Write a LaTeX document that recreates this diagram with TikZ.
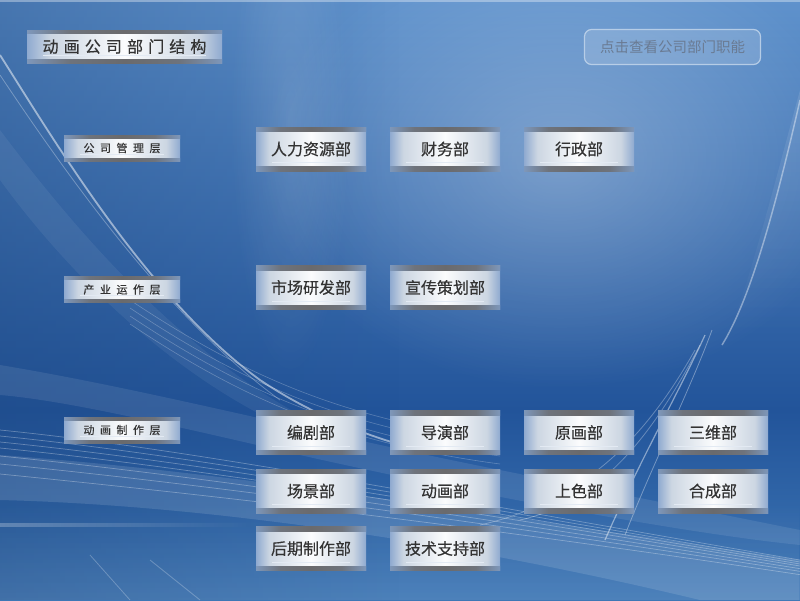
\documentclass[tikz,border=0pt]{standalone}
\usepackage{fontspec}
\setmainfont{Noto Sans CJK SC}
\newfontfamily\deptfont[FakeBold=0.4]{Noto Sans CJK SC}
\newfontfamily\layerfont[LetterSpace=50,FakeBold=0.3]{Noto Sans CJK SC}
\newfontfamily\titlefont[LetterSpace=32,FakeBold=0.5]{Noto Sans CJK SC}
\usetikzlibrary{calc,fadings}
\definecolor{bgtop}{HTML}{5F92CC}
\definecolor{bgmid}{HTML}{22549A}
\definecolor{bgbot}{HTML}{3E77B5}
\definecolor{edgeblue}{HTML}{8FAAD0}
\definecolor{bodygray}{HTML}{CCD6E2}
\definecolor{bodywhite}{HTML}{FBFCFD}
\definecolor{stripgray}{HTML}{6A6A6C}
\definecolor{stripedge}{HTML}{7E97BA}
\definecolor{txt}{HTML}{333333}
\definecolor{btntxt}{HTML}{6A7B93}
\pgfdeclarehorizontalshading{metalbody}{100bp}{color(0bp)=(edgeblue); color(25bp)=(edgeblue); color(31bp)=(bodygray); color(50bp)=(bodywhite); color(69bp)=(bodygray); color(75bp)=(edgeblue); color(100bp)=(edgeblue)}
\pgfdeclarehorizontalshading{metalstrip}{100bp}{color(0bp)=(stripedge); color(25bp)=(stripedge); color(36bp)=(stripgray!80!stripedge); color(50bp)=(stripgray); color(64bp)=(stripgray!80!stripedge); color(75bp)=(stripedge); color(100bp)=(stripedge)}
\tikzfading[name=fadeleftopaque, left color=transparent!0, right color=transparent!100]
\tikzfading[name=fadetopopaque, top color=transparent!0, bottom color=transparent!100]
\tikzfading[name=fadebottomopaque, top color=transparent!100, bottom color=transparent!0]
\tikzfading[name=myglow, inner color=transparent!0, outer color=transparent!100]
\begin{document}
\begin{tikzpicture}[x=1pt,y=-1pt,
  metal/.style={inner sep=0pt, outer sep=0pt, shading=metalbody, shading angle=0, text=txt},
  strips/.style={path picture={
    \shade[shading=metalstrip, shading angle=0]
      (path picture bounding box.north west) rectangle ([yshift=-#1]path picture bounding box.north east);
    \shade[shading=metalstrip, shading angle=0]
      ([yshift=#1]path picture bounding box.south west) rectangle (path picture bounding box.south east);
    \draw[white!75!edgeblue, line width=0.8pt]
      ($(path picture bounding box.south west)+(16pt,#1+4pt)$) -- ($(path picture bounding box.south east)+(-16pt,#1+4pt)$);
  }},
  dept/.style={metal, strips=4.5pt, minimum width=110pt, minimum height=44pt,
    font=\deptfont\fontsize{16}{16}\selectfont},
  layer/.style={metal, strips=3pt, minimum width=116pt, minimum height=26pt,
    font=\layerfont\fontsize{11}{11}\selectfont},
  titlebox/.style={metal, strips=3.5pt, minimum width=195pt, minimum height=33pt,
    font=\titlefont\fontsize{16}{16}\selectfont},
  btn/.style={draw=white!65!bgtop, draw opacity=0.8, line width=1.2pt, rounded corners=7pt,
    fill=white, fill opacity=0.15, text opacity=1, text=btntxt,
    minimum width=176pt, minimum height=35pt, inner sep=0pt,
    font=\fontsize{14.5}{15}\selectfont},
  streak/.style={white, line width=#1, opacity=0.25},
  streak/.default=1pt
]
% ---------- background ----------
\useasboundingbox (0,0) rectangle (800,600);
\shade[top color=bgtop, bottom color=bgmid] (0,0) rectangle (800,410);
\shade[top color=bgmid, bottom color=bgbot] (0,410) rectangle (800,600);
% darker left side
\fill[bgmid!80!black, opacity=0.35, path fading=fadeleftopaque] (0,0) rectangle (400,600);
% light glow top right
\fill[white, opacity=0.28, path fading=myglow] (560,160) ellipse (300 and 230);
\fill[white, opacity=0.12, path fading=myglow] (290,120) ellipse (60 and 260);
% top edge
\fill[white, opacity=0.35] (0,0) rectangle (800,2);
% left sweeping curve
\fill[white, opacity=0.06] (0,130) .. controls (90,250) and (200,370) .. (330,430)
   -- (330,445) .. controls (200,400) and (80,290) .. (0,180) -- cycle;
\draw[streak=1.8pt, opacity=0.5] (0,55) .. controls (60,150) and (150,300) .. (260,380) .. controls (320,420) and (380,440) .. (420,450);
\draw[streak=0.8pt, opacity=0.3] (0,75) .. controls (70,180) and (170,320) .. (280,400);
% right curve
\fill[white, opacity=0.10, path fading=fadetopopaque] (800,90) .. controls (770,200) and (745,300) .. (725,340) -- (800,340) -- cycle;
\draw[streak=1.5pt, opacity=0.4] (800,100) .. controls (775,210) and (750,300) .. (722,345);
\draw[streak=1.2pt, opacity=0.45] (705,335) .. controls (680,390) and (640,460) .. (605,540);
\draw[streak=0.8pt, opacity=0.35] (712,330) .. controls (690,390) and (650,470) .. (625,535);
\draw[streak=0.8pt, opacity=0.3] (700,345) .. controls (660,420) and (610,500) .. (520,520);
\draw[streak=0.8pt, opacity=0.3] (695,350) .. controls (650,430) and (590,500) .. (480,525);
% bottom streaks
\fill[white, opacity=0.12] (0,455) .. controls (200,470) and (400,500) .. (800,560)
   -- (800,600) -- (700,600) .. controls (450,540) and (200,505) .. (0,500) -- cycle;
\fill[white, opacity=0.09] (0,365) .. controls (150,390) and (300,430) .. (500,470)
   .. controls (650,500) and (750,520) .. (800,530) -- (800,545)
   .. controls (700,535) and (500,500) .. (300,455) .. controls (150,420) and (60,400) .. (0,395) -- cycle;
\foreach \d in {0,6,12,18,26,34,44}{
  \draw[streak=0.7pt, opacity=0.3] (0,430+\d) .. controls (200,450+\d) and (450,500+\d/2) .. (800,560+\d/3);
}
\foreach \d in {0,8,16,24}{
  \draw[streak=0.6pt, opacity=0.25] (130,300+\d) .. controls (250,380+\d) and (350,420+\d) .. (500,440+\d);
}
\fill[white, opacity=0.25, path fading=fadeleftopaque] (0,523) rectangle (250,527);
\fill[white, opacity=0.08, path fading=fadebottomopaque] (0,500) rectangle (800,600);
\draw[streak=0.8pt, opacity=0.25] (90,555) -- (130,600);
\draw[streak=0.8pt, opacity=0.25] (150,560) -- (200,600);
% ---------- title and button ----------
\node[titlebox] (title) at (124.5,46.5) {动画公司部门结构};
\node[btn] (btn) at (672.5,47) {点击查看公司部门职能};
% ---------- layers ----------
\node[layer] (l1) at (122,148) {公司管理层};
\node[layer] (l2) at (122,289.5) {产业运作层};
\node[layer] (l3) at (122,430) {动画制作层};
% ---------- departments ----------
\node[dept] (d11) at (311,149) {人力资源部};
\node[dept] (d12) at (445,149) {财务部};
\node[dept] (d13) at (579,149) {行政部};
\node[dept] (d21) at (311,287.5) {市场研发部};
\node[dept] (d22) at (445,287.5) {宣传策划部};
\node[dept] (d31) at (311,432.5) {编剧部};
\node[dept] (d32) at (445,432.5) {导演部};
\node[dept] (d33) at (579,432.5) {原画部};
\node[dept] (d34) at (713,432.5) {三维部};
\node[dept] (d41) at (311,491) {场景部};
\node[dept] (d42) at (445,491) {动画部};
\node[dept] (d43) at (579,491) {上色部};
\node[dept] (d44) at (713,491) {合成部};
\node[dept] (d51) at (311,548.5) {后期制作部};
\node[dept] (d52) at (445,548.5) {技术支持部};
\end{tikzpicture}
\end{document}
